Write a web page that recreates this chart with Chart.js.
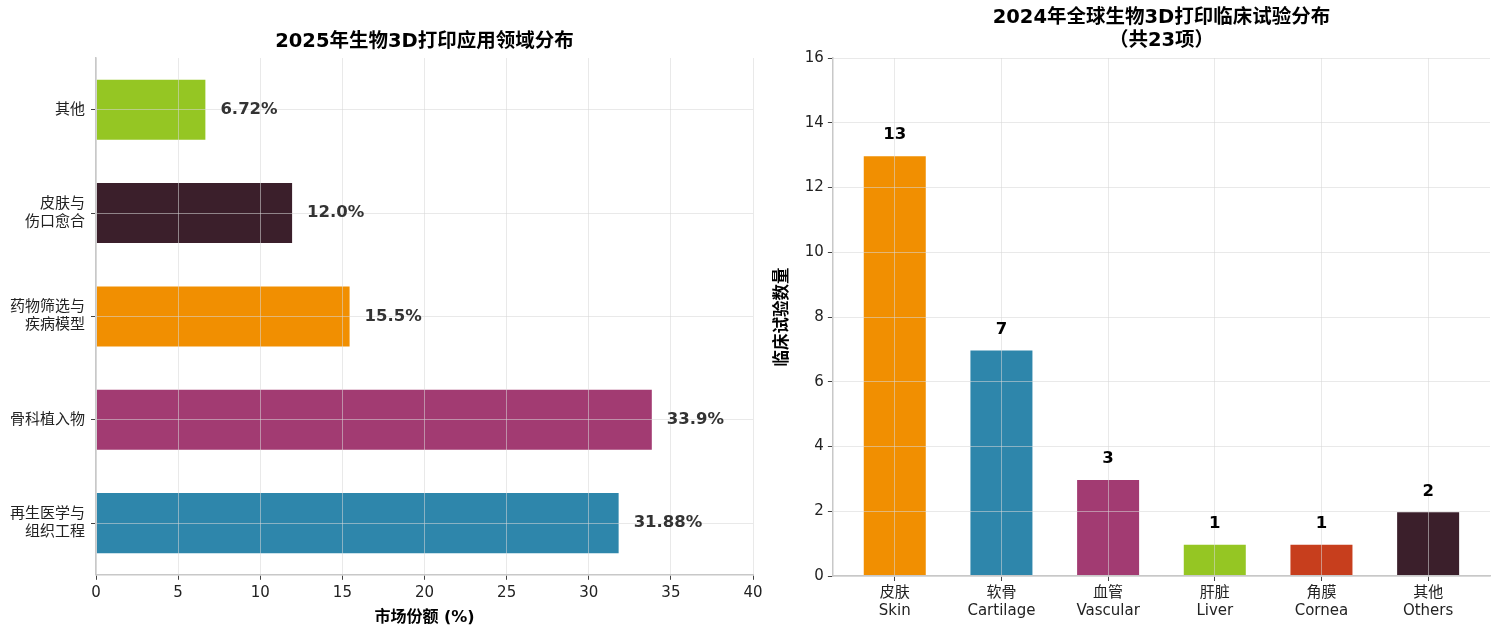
<!DOCTYPE html>
<html>
<head>
<meta charset="utf-8">
<script src="https://cdn.jsdelivr.net/npm/chart.js@4/dist/chart.umd.min.js"></script>
<style>
  body { margin: 0; background: #fff; }
  #wrap { position: relative; width: 1500px; height: 634px; }
  .box { position: absolute; top: 0; height: 634px; }
</style>
</head>
<body>
<div id="wrap">
  <div class="box" style="left:0; width:775px;"><canvas id="shareChart"></canvas></div>
  <div class="box" style="left:765px; width:735px;"><canvas id="trialChart"></canvas></div>
</div>
<script>
'use strict';

// left chart data (bottom to top)
var shareLabels = [['再生医学与', '组织工程'], '骨科植入物', ['药物筛选与', '疾病模型'], ['皮肤与', '伤口愈合'], '其他'];
var shareValues = [31.88, 33.9, 15.5, 12.0, 6.72];
var shareText = ['31.88%', '33.9%', '15.5%', '12.0%', '6.72%'];
var shareColors = ['#2E86AB', '#A23B72', '#F18F01', '#3B1F2B', '#95C623'];

// right chart data
var trialLabels = [['皮肤', 'Skin'], ['软骨', 'Cartilage'], ['血管', 'Vascular'], ['肝脏', 'Liver'], ['角膜', 'Cornea'], ['其他', 'Others']];
var trialValues = [13, 7, 3, 1, 1, 2];
var trialColors = ['#F18F01', '#2E86AB', '#A23B72', '#95C623', '#C73E1D', '#3B1F2B'];

var fontFam = '"DejaVu Sans", "Noto Sans CJK SC", sans-serif';
var gridColor = 'rgba(215,215,215,0.55)';
var axisColor = '#c8c8c8';

Chart.defaults.font.family = fontFam;
Chart.defaults.color = '#222';
Chart.defaults.animation = false;

// grid drawn over the bars, border after grid
function gridOpts(extra) {
    var g = { z: 1, color: gridColor, tickColor: '#444', tickLength: 5 };
    for (var k in extra) g[k] = extra[k];
    return g;
}
var borderOpts = { z: 2, color: axisColor, width: 1.5 };

// title drawn centered over the plot area
function titlePlugin(lines) {
    return {
        id: 'plotTitle',
        afterDraw: function (chart) {
            var ctx = chart.ctx;
            var area = chart.chartArea;
            var cx = (area.left + area.right) / 2;
            ctx.save();
            ctx.fillStyle = '#000';
            ctx.font = 'bold 19.5px ' + fontFam;
            ctx.textAlign = 'center';
            ctx.textBaseline = 'middle';
            for (var i = 0; i < lines.length; i++) {
                ctx.fillText(lines[i].text, cx, lines[i].y);
            }
            ctx.restore();
        }
    };
}

// value labels next to / above bars
function labelPlugin(texts, horizontal, color) {
    return {
        id: 'barLabels',
        afterDraw: function (chart) {
            var ctx = chart.ctx;
            var meta = chart.getDatasetMeta(0);
            ctx.save();
            ctx.fillStyle = color;
            ctx.font = 'bold 16.5px ' + fontFam;
            for (var i = 0; i < meta.data.length; i++) {
                var bar = meta.data[i];
                ctx.textBaseline = 'middle';
                if (horizontal) {
                    ctx.textAlign = 'left';
                    ctx.fillText(texts[i], bar.x + 14, bar.y);
                } else {
                    ctx.textAlign = 'center';
                    ctx.fillText(texts[i], bar.x, bar.y - 20);
                }
            }
            ctx.restore();
        }
    };
}

function makeShareChart() {
    var ctx = document.getElementById('shareChart').getContext('2d');
    new Chart(ctx, {
        type: 'bar',
        data: {
            labels: shareLabels,
            datasets: [{
                data: shareValues,
                backgroundColor: shareColors,
                borderColor: 'rgba(255,255,255,0.6)',
                borderWidth: 1,
                barPercentage: 0.6,
                categoryPercentage: 1
            }]
        },
        options: {
            indexAxis: 'y',
            responsive: true,
            maintainAspectRatio: false,
            layout: { padding: { top: 58, right: 22, left: 4, bottom: 3 } },
            plugins: { legend: { display: false }, tooltip: { enabled: false } },
            scales: {
                x: {
                    min: 0, max: 40,
                    ticks: { stepSize: 5, font: { size: 15 }, color: '#222', padding: 4 },
                    grid: gridOpts({}),
                    border: borderOpts,
                    title: { display: true, text: '市场份额 (%)', font: { size: 16, weight: 'bold' }, color: '#000', padding: { top: 2 } }
                },
                y: {
                    reverse: true,
                    ticks: { font: { size: 15 }, color: '#222', padding: 6 },
                    grid: gridOpts({ offset: false }),
                    border: borderOpts
                }
            }
        },
        plugins: [labelPlugin(shareText, true, '#333'), titlePlugin([{ text: '2025年生物3D打印应用领域分布', y: 42 }])]
    });
}

function makeTrialChart() {
    var ctx = document.getElementById('trialChart').getContext('2d');
    var trialText = [];
    var trialPoints = [];
    for (var i = 0; i < trialValues.length; i++) {
        trialText.push(String(trialValues[i]));
        trialPoints.push({ x: i, y: trialValues[i] });
    }
    new Chart(ctx, {
        type: 'bar',
        data: {
            datasets: [{
                data: trialPoints,
                backgroundColor: trialColors,
                borderColor: 'rgba(255,255,255,0.6)',
                borderWidth: 1,
                barPercentage: 0.6,
                categoryPercentage: 1
            }]
        },
        options: {
            responsive: true,
            maintainAspectRatio: false,
            layout: { padding: { top: 58, right: 10, left: 4, bottom: 11 } },
            plugins: { legend: { display: false }, tooltip: { enabled: false } },
            scales: {
                x: {
                    // linear axis so the side margins match (bar width 0.6 + 5% margin)
                    type: 'linear',
                    offset: false,
                    min: -0.58, max: trialValues.length - 0.42,
                    afterBuildTicks: function (scale) {
                        var t = [];
                        for (var k = 0; k < trialLabels.length; k++) t.push({ value: k });
                        scale.ticks = t;
                    },
                    ticks: {
                        font: { size: 15 }, color: '#222', padding: 3, maxRotation: 0, autoSkip: false,
                        callback: function (v) { return trialLabels[v]; }
                    },
                    grid: gridOpts({ offset: false }),
                    border: borderOpts
                },
                y: {
                    min: 0, max: 16,
                    ticks: { stepSize: 2, font: { size: 15 }, color: '#222', padding: 4 },
                    grid: gridOpts({}),
                    border: borderOpts,
                    title: { display: true, text: '临床试验数量', font: { size: 16.5, weight: 'bold' }, color: '#000', padding: { bottom: 8 } }
                }
            }
        },
        plugins: [labelPlugin(trialText, false, '#000'), titlePlugin([{ text: '2024年全球生物3D打印临床试验分布', y: 18 }, { text: '（共23项）', y: 41 }])]
    });
}

makeShareChart();
makeTrialChart();
</script>
</body>
</html>
